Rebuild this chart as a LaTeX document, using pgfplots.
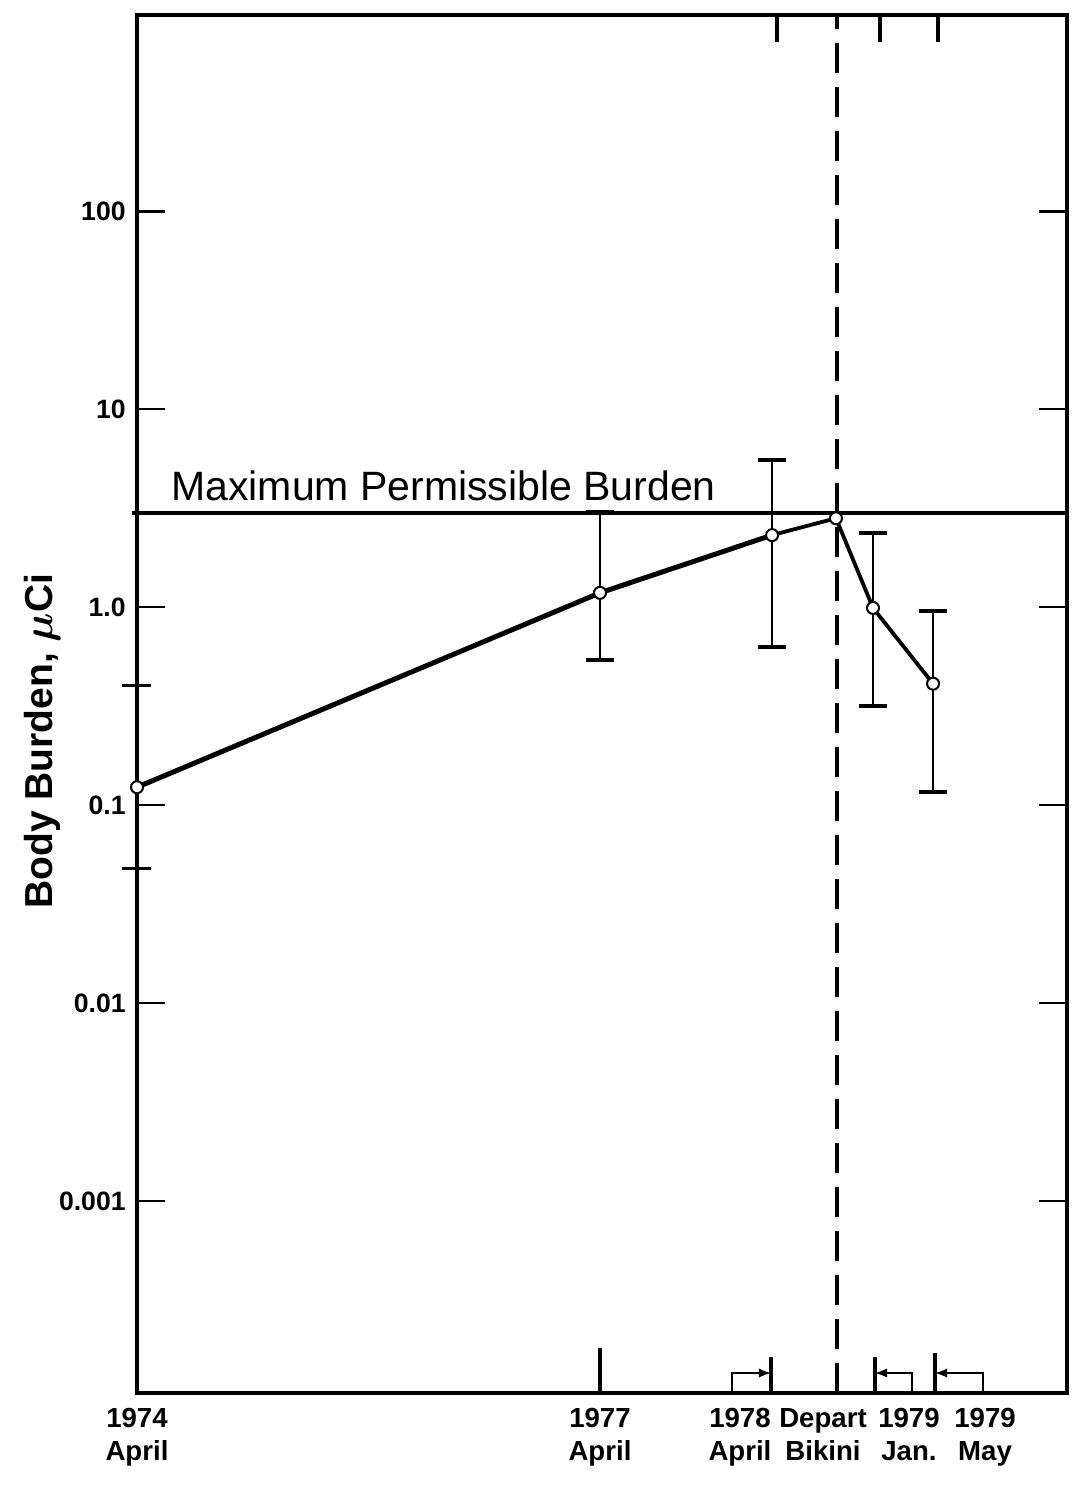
\documentclass[border=0pt]{standalone}
\usepackage{pgfplots}
\usepackage{pgfplotstable}
\pgfplotsset{compat=1.18}
\usepackage{fontspec}
\setmainfont{Liberation Sans}

% x = years after 1974.0; measured values with explicit error limits (plus / minus)
\pgfplotstableread{
x      y     ep     em
3.25   1.18  1.82   0.64
4.365  2.31  3.22   1.68
5.019  0.99  1.37   0.674
5.408  0.41  0.545  0.294
}\errdata

\begin{document}
\begin{tikzpicture}
\begin{axis}[
    scale only axis,
    width=465pt, height=689pt,
    clip=false,
    xmin=0.25, xmax=6.276,
    ymode=log, ymin=1.07e-4, ymax=980,
    axis line style={line width=1.6pt},
    ytick={0.001,0.01,0.1,1,10,100},
    yticklabels={0.001,0.01,0.1,1.0,10,100},
    yminorticks=false,
    major tick length=14pt,
    ytick style={line width=1.3pt, black},
    yticklabel style={font=\bfseries\fontsize{13.3}{14}\selectfont, inner sep=5.5pt},
    xtick={0.25,3.25,4.157,4.695,5.252,5.745},
    xticklabels={{1974\\April},{1977\\April},{1978\\April},{Depart\\Bikini},{1979\\Jan.},{1979\\May}},
    xtick style={draw=none},
    xticklabel style={align=center, font=\bfseries\fontsize{13.8}{16.5}\selectfont,
        inner sep=0pt, anchor=north, yshift=-7.5pt},
    ylabel={Body Burden, {\boldmath$\mu$}Ci},
    ylabel style={at={(rel axis cs:0,0.473)}, anchor=center, yshift=47.5pt,
        font=\bfseries\fontsize{19.5}{20}\selectfont},
]

% maximum permissible burden
\addplot[line width=2pt, mark=none] coordinates {(0.22,3) (6.276,3)};
\node[anchor=base west, inner sep=0pt, font=\fontsize{20.5}{21}\selectfont]
    at (axis cs:0.47,3.47) {Maximum Permissible Burden};

% departure from Bikini
\addplot[line width=1.6pt, mark=none, dash pattern=on 15pt off 7pt]
    coordinates {(4.786,1.07e-4) (4.786,980)};

% error bars
\addplot[draw=none, mark=none,
    error bars/.cd, y dir=both, y explicit,
    error bar style={line width=1.3pt},
    error mark=|, error mark options={line width=2.2pt, mark size=7pt}]
    table[x=x, y=y, y error plus=ep, y error minus=em] {\errdata};

% body burden
\addplot[line width=2.5pt, mark=none] coordinates {
(0.25,0.123) (3.25,1.18) (4.365,2.31)
};
\addplot[line width=1.9pt, mark=none] coordinates {
(4.365,2.31) (4.779,2.81) (5.019,0.99) (5.408,0.41)
};
\addplot[only marks, mark=*, mark size=3pt, mark options={fill=white, line width=1pt}]
    coordinates {
(0.25,0.123) (3.25,1.18) (4.365,2.31) (4.779,2.81) (5.019,0.99) (5.408,0.41)
};

% extra ticks on the left axis
\draw[line width=1.4pt] (axis cs:0.153,0.4) -- (axis cs:0.34,0.4);
\draw[line width=1.4pt] (axis cs:0.153,0.048) -- (axis cs:0.34,0.048);

% top ticks
\draw[line width=1.6pt] (axis cs:4.397,980) -- (axis cs:4.397,716);
\draw[line width=1.6pt] (axis cs:5.064,980) -- (axis cs:5.064,716);
\draw[line width=1.6pt] (axis cs:5.44,980) -- (axis cs:5.44,716);

% bottom ticks and sampling brackets
\draw[line width=1.6pt] (axis cs:3.25,1.07e-4) -- (axis cs:3.25,1.81e-4);
\draw[line width=1.6pt] (axis cs:4.358,1.07e-4) -- (axis cs:4.358,1.63e-4);
\draw[line width=1.6pt] (axis cs:5.032,1.07e-4) -- (axis cs:5.032,1.63e-4);
\draw[line width=1.6pt] (axis cs:5.421,1.07e-4) -- (axis cs:5.421,1.71e-4);
\draw[line width=1.1pt, -latex] (axis cs:4.105,1.07e-4) -- (axis cs:4.105,1.35e-4) -- (axis cs:4.358,1.35e-4);
\draw[line width=1.1pt, -latex] (axis cs:5.272,1.07e-4) -- (axis cs:5.272,1.35e-4) -- (axis cs:5.032,1.35e-4);
\draw[line width=1.1pt, -latex] (axis cs:5.732,1.07e-4) -- (axis cs:5.732,1.35e-4) -- (axis cs:5.421,1.35e-4);

\end{axis}
\pgfresetboundingbox
\path[use as bounding box] (-68.5pt,-46pt) rectangle (469pt,696.5pt);
\end{tikzpicture}
\end{document}
